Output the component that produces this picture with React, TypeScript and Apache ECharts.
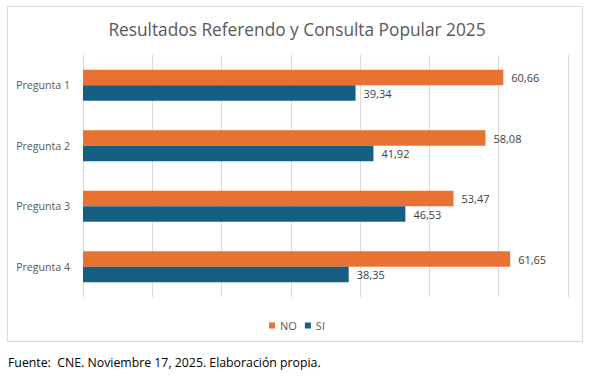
import React, { useEffect, useRef } from "react";
import * as echarts from "echarts";

const categories = ["Pregunta 1", "Pregunta 2", "Pregunta 3", "Pregunta 4"];
const noValues = [60.66, 58.08, 53.47, 61.65];
const siValues = [39.34, 41.92, 46.53, 38.35];
const titleText = "Resultados Referendo y Consulta Popular 2025";
const captionText = "Fuente:  CNE. Noviembre 17, 2025. Elaboración propia.";

const FONT = "'Open Sans', 'Noto Sans', sans-serif";

export default function App() {
  const ref = useRef<HTMLDivElement>(null);
  useEffect(() => {
    if (!ref.current) return;
    const chart = echarts.init(ref.current, null, { renderer: "svg" });
    const fmt = (p: any) => Number(p.value).toFixed(2).replace(".", ",");
    chart.setOption({
      animation: false,
      backgroundColor: "#ffffff",
      title: {
        text: titleText,
        left: "center",
        top: 16,
        textStyle: { fontFamily: FONT, fontSize: 17.3, fontWeight: "normal", color: "#595959" },
      },
      legend: {
        data: ["NO", "SI"],
        left: "center",
        top: 315,
        icon: "rect",
        itemWidth: 6,
        itemHeight: 6,
        itemGap: 8,
        textStyle: { fontFamily: FONT, fontSize: 11, color: "#595959" },
      },
      grid: { left: 83, right: 26, top: 55, bottom: 83, containLabel: false },
      xAxis: {
        type: "value",
        min: 0,
        max: 70,
        interval: 10,
        axisLabel: { show: false },
        axisLine: { show: false },
        axisTick: { show: false },
        splitLine: { show: true, lineStyle: { color: "#D9D9D9", width: 1 } },
      },
      yAxis: {
        type: "category",
        data: categories,
        inverse: true,
        axisLine: { show: false },
        axisTick: { show: false },
        axisLabel: { fontFamily: FONT, fontSize: 10.6, color: "#595959", margin: 13 },
      },
      series: [
        {
          name: "NO",
          type: "bar",
          data: noValues,
          barWidth: 15.5,
          barGap: "0%",
          itemStyle: { color: "#E97132" },
          label: {
            show: true,
            position: "right",
            distance: 8,
            formatter: fmt,
            fontFamily: FONT,
            fontSize: 11,
            color: "#404040",
          },
        },
        {
          name: "SI",
          type: "bar",
          data: siValues,
          barWidth: 15.5,
          barGap: "0%",
          itemStyle: { color: "#156082" },
          label: {
            show: true,
            position: "right",
            distance: 8,
            formatter: fmt,
            fontFamily: FONT,
            fontSize: 11,
            color: "#404040",
          },
        },
      ],
      graphic: [
        {
          type: "rect",
          z: -1,
          shape: { x: 7.5, y: 6.5, width: 575, height: 335 },
          style: { fill: "#ffffff", stroke: "#D9D9D9", lineWidth: 1 },
          silent: true,
        },
        {
          type: "text",
          left: 8,
          top: 356,
          style: { text: captionText, fontFamily: FONT, fontSize: 12.3, fill: "#000000" },
        },
      ],
    });
    return () => chart.dispose();
  }, []);
  return (
    <div
      ref={ref}
      style={{ position: "fixed", left: 0, top: 0, width: 594, height: 380 }}
    />
  );
}
